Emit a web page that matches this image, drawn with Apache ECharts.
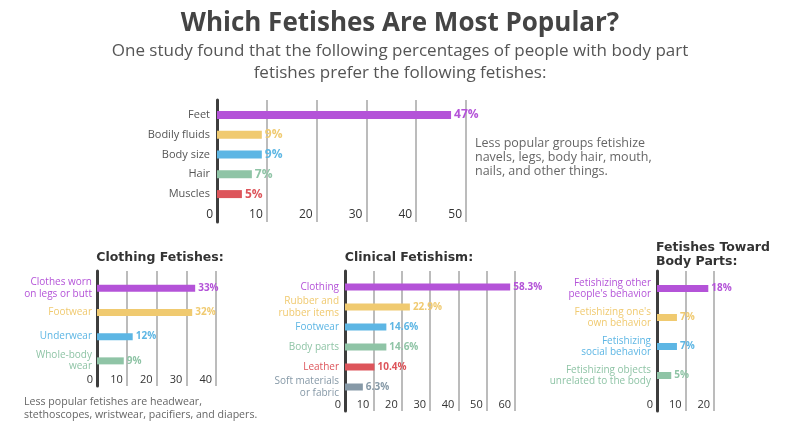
<!DOCTYPE html>
<html><head><meta charset="utf-8">
<script src="https://cdn.jsdelivr.net/npm/echarts@6/dist/echarts.min.js"></script>
<style>html,body{margin:0;padding:0;background:#fff}#c{width:800px;height:440px}</style>
</head><body><div id="c"></div><script>
// ---- data ----
const topCategories = ['Feet', 'Bodily fluids', 'Body size', 'Hair', 'Muscles'];
const topValues = [47, 9, 9, 7, 5];
const clothingCategories = ['Clothes worn\non legs or butt', 'Footwear', 'Underwear', 'Whole-body\nwear'];
const clothingValues = [33, 32, 12, 9];
const clinicalCategories = ['Clothing', 'Rubber and\nrubber items', 'Footwear', 'Body parts', 'Leather', 'Soft materials\nor fabric'];
const clinicalValues = [58.3, 22.9, 14.6, 14.6, 10.4, 6.3];
const bodyCategories = ["Fetishizing other\npeople's behavior", "Fetishizing one's\nown behavior", 'Fetishizing\nsocial behavior', 'Fetishizing objects\nunrelated to the body'];
const bodyValues = [18, 7, 7, 5];
const axisMax = { top: 50, clothing: 40, clinical: 60, body: 20 };
const tickInterval = 10;

const palette = ['#B453D8', '#F0CA70', '#5DB6E4', '#8FC4A6', '#DD555B', '#8699A7'];
const FONT = 'Open Sans';
const HEAD_FONT = 'DejaVu Sans';

// ---- layout of panels (frame grid = gridlines & axis, bar grid = bands) ----
const panels = [
  { cats: topCategories, vals: topValues, max: axisMax.top, colorLabels: false,
    frame: { left: 217, right: 334, top: 100, bottom: 218 },
    bars: { left: 217, right: 334, top: 105, bottom: 236 },
    labelMargin: -13, tickFont: 12, catFont: 11, catMargin: 7, barWidth: 8, valFont: 12 },
  { cats: clothingCategories, vals: clothingValues, max: axisMax.clothing, colorLabels: true,
    frame: { left: 97, right: 584, top: 271, bottom: 54 },
    bars: { left: 97, right: 584, top: 276, bottom: 67 },
    labelMargin: -12, tickFont: 11, catFont: 10, catMargin: 5, barWidth: 7, valFont: 10 },
  { cats: clinicalCategories, vals: clinicalValues, max: axisMax.clinical, colorLabels: true,
    frame: { left: 345, right: 285, top: 271, bottom: 29 },
    bars: { left: 345, right: 285, top: 277, bottom: 43 },
    labelMargin: -12, tickFont: 11, catFont: 10, catMargin: 6, barWidth: 7, valFont: 10 },
  { cats: bodyCategories, vals: bodyValues, max: axisMax.body, colorLabels: true,
    frame: { left: 657, right: 86, top: 271, bottom: 29 },
    bars: { left: 657, right: 86, top: 274, bottom: 50 },
    labelMargin: -12, tickFont: 11, catFont: 10, catMargin: 6, barWidth: 7, valFont: 10 }
];

const grid = [], xAxis = [], yAxis = [], series = [];
panels.forEach((p, i) => {
  const fi = 2 * i, bi = 2 * i + 1;
  grid.push(Object.assign({}, p.frame), Object.assign({}, p.bars));
  // frame
  xAxis.push({
    gridIndex: fi, type: 'value', min: 0, max: p.max, interval: tickInterval,
    axisLine: { show: false }, axisTick: { show: false },
    splitLine: { show: true, lineStyle: { color: '#bcbcbc', width: 2 } },
    axisLabel: { margin: p.labelMargin, align: 'right', padding: [0, 4, 0, 0],
      color: '#333', fontSize: p.tickFont, fontFamily: FONT }
  });
  yAxis.push({
    gridIndex: fi, type: 'value', min: 0, max: 1,
    axisLine: { show: true, lineStyle: { color: '#3d3d3d', width: 3 } },
    axisTick: { show: false }, axisLabel: { show: false }, splitLine: { show: false }
  });
  // bars
  xAxis.push({ gridIndex: bi, type: 'value', min: 0, max: p.max, show: false });
  yAxis.push({
    gridIndex: bi, type: 'category', data: p.cats, inverse: true,
    axisLine: { show: false }, axisTick: { show: false }, splitLine: { show: false },
    axisLabel: {
      margin: p.catMargin, fontSize: p.catFont, lineHeight: p.catFont + 1.5, fontFamily: FONT,
      color: p.colorLabels ? (v, idx) => palette[idx] : '#555'
    }
  });
  series.push({
    type: 'bar', xAxisIndex: bi, yAxisIndex: bi, barWidth: p.barWidth, z: 3,
    data: p.vals.map((v, k) => ({ value: v, itemStyle: { color: palette[k] }, label: { color: palette[k] } })),
    label: { show: true, position: 'right', distance: 3, formatter: '{c}%',
      fontWeight: 'bold', fontSize: p.valFont, fontFamily: FONT }
  });
});

const headStyle = { fontFamily: HEAD_FONT, fontWeight: 'bold', fontSize: 12.5, lineHeight: 14, color: '#333' };
const option = {
  animation: false,
  textStyle: { fontFamily: FONT },
  title: [
    { text: 'Which Fetishes Are Most Popular?', left: 'center', top: 11, padding: 0,
      textStyle: { fontFamily: FONT, fontWeight: 'bold', fontSize: 26, color: '#444' } },
    { text: 'One study found that the following percentages of people with body part',
      left: 'center', top: 43, padding: 0,
      textStyle: { fontFamily: FONT, fontWeight: 'normal', fontSize: 17, color: '#555' } },
    { text: 'fetishes prefer the following fetishes:',
      left: 'center', top: 65, padding: 0,
      textStyle: { fontFamily: FONT, fontWeight: 'normal', fontSize: 17, color: '#555' } },
    { text: 'Less popular groups fetishize\nnavels, legs, body hair, mouth,\nnails, and other things.',
      left: 475, top: 136, padding: 0,
      textStyle: { fontFamily: FONT, fontWeight: 'normal', fontSize: 12.5, lineHeight: 14, color: '#666' } },
    { text: 'Less popular fetishes are headwear,\nstethoscopes, wristwear, pacifiers, and diapers.',
      left: 24, top: 395, padding: 0,
      textStyle: { fontFamily: FONT, fontWeight: 'normal', fontSize: 10.6, lineHeight: 13, color: '#666' } },
    { text: 'Clothing Fetishes:', left: 160, top: 251, padding: 0, textAlign: 'center', textStyle: headStyle },
    { text: 'Clinical Fetishism:', left: 409, top: 251, padding: 0, textAlign: 'center', textStyle: headStyle },
    { text: 'Fetishes Toward\nBody Parts:', left: 656, top: 241, padding: 0, textStyle: headStyle }
  ],
  grid, xAxis, yAxis, series
};
echarts.init(document.getElementById('c')).setOption(option);
</script></body></html>
